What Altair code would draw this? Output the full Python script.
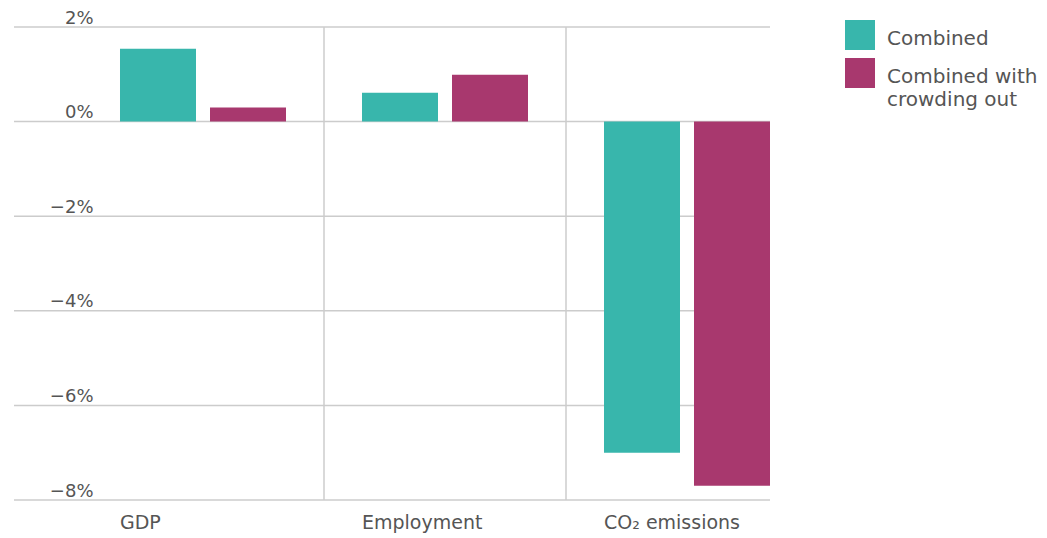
import altair as alt
import pandas as pd

# Change relative to baseline, in percent
categories = ["GDP", "Employment", "CO₂ emissions"]
series = ["Combined", "Combined with crowding out"]
combined = [1.54, 0.61, -7.0]
crowding_out = [0.30, 0.99, -7.7]
y_ticks = [2, 0, -2, -4, -6, -8]
colors = ["#38b6ac", "#a8386e"]
legend_lines = [["Combined"], ["Combined with", "crowding out"]]

rows = []
for cat, a, b in zip(categories, combined, crowding_out):
    rows.append({"category": cat, "series": series[0], "value": a})
    rows.append({"category": cat, "series": series[1], "value": b})
bars_df = pd.DataFrame(rows)
grid_df = pd.DataFrame({"value": y_ticks})
sep_df = pd.DataFrame({"category": categories[1:]})

FONT = "DejaVu Sans"
WEIGHT = "normal"
TEXT = "#555555"
GRID = "#cccccc"
W, H = 726, 473

y_scale = alt.Scale(domain=[-8, 2], nice=False, zero=False)
x_scale = alt.Scale(paddingInner=0, paddingOuter=0)

bars = alt.Chart(bars_df).mark_bar().encode(
    x=alt.X(
        "category:N", sort=categories, scale=x_scale,
        axis=alt.Axis(
            title=None, domain=False, ticks=False, grid=False, labelAngle=0,
            labelAlign="left", labelOffset=-83, labelPadding=13,
            labelBaseline="top", labelFontSize=19, labelColor=TEXT,
            labelFont=FONT, labelFontWeight=WEIGHT,
        ),
    ),
    xOffset=alt.XOffset(
        "series:N", sort=series,
        scale=alt.Scale(paddingInner=0.1556, paddingOuter=0.4222),
    ),
    y=alt.Y(
        "value:Q", scale=y_scale, stack=None,
        axis=alt.Axis(
            title=None, values=y_ticks, domain=False, ticks=False, grid=False,
            labelAlign="right", labelPadding=-11, labelBaseline="alphabetic",
            labelOffset=-4, labelFontSize=18, labelColor=TEXT, labelFont=FONT,
            labelFontWeight=WEIGHT,
            labelExpr="(datum.value < 0 ? '−' + abs(datum.value) : datum.value) + '%'",
        ),
    ),
    y2=alt.datum(0),
    color=alt.Color("series:N", sort=series,
                    scale=alt.Scale(domain=series, range=colors), legend=None),
)

hgrid = alt.Chart(grid_df).mark_rule(color=GRID, strokeWidth=1.5).encode(
    y=alt.Y("value:Q", scale=y_scale),
    x=alt.value(-68),
    x2=alt.value(688),
)

vgrid = alt.Chart(sep_df).mark_rule(color=GRID, strokeWidth=1.5).encode(
    x=alt.X("category:N", sort=categories, scale=x_scale, bandPosition=0),
    y=alt.value(0),
    y2=alt.value(H),
)

# Legend: swatch plus label lines, stacked down the right side
legend_layers = []
top = -7
for name, color, lines in zip(series, colors, legend_lines):
    sw = alt.Chart(pd.DataFrame({"series": [name]})).mark_rect(color=color).encode(
        x=alt.value(763), x2=alt.value(793),
        y=alt.value(top), y2=alt.value(top + 30),
    )
    txt = alt.Chart(pd.DataFrame({"series": [name]})).mark_text(
        text=lines, align="left", baseline="middle", font=FONT,
        fontSize=20, fontWeight=WEIGHT, color=TEXT, lineHeight=23,
    ).encode(x=alt.value(805), y=alt.value(top + 19))
    legend_layers += [sw, txt]
    top += 38

chart = alt.layer(vgrid, hgrid, bars, *legend_layers).properties(
    width=W, height=H,
    autosize=alt.AutoSizeParams(type="none"),
    padding={"left": 82, "top": 27, "right": 1047 - 82 - W, "bottom": 538 - 27 - H},
).configure_view(stroke=None)

chart.save("out.html", embed_options={"renderer": "svg", "actions": False})
